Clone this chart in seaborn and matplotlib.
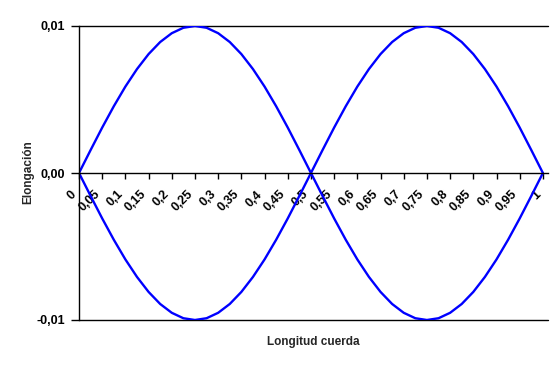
import matplotlib
matplotlib.use("Agg")
import matplotlib.pyplot as plt
import seaborn as sns
import pandas as pd

# Data
x_vals = [0.0, 0.025, 0.05, 0.075, 0.1, 0.125, 0.15, 0.175, 0.2, 0.225,
          0.25, 0.275, 0.3, 0.325, 0.35, 0.375, 0.4, 0.425, 0.45, 0.475,
          0.5, 0.525, 0.55, 0.575, 0.6, 0.625, 0.65, 0.675, 0.7, 0.725,
          0.75, 0.775, 0.8, 0.825, 0.85, 0.875, 0.9, 0.925, 0.95, 0.975, 1.0]
upper = [0.0, 0.00156, 0.00309, 0.00454, 0.00588, 0.00707, 0.00809, 0.00891, 0.00951, 0.00988,
         0.0100, 0.00988, 0.00951, 0.00891, 0.00809, 0.00707, 0.00588, 0.00454, 0.00309, 0.00156,
         0.0, -0.00156, -0.00309, -0.00454, -0.00588, -0.00707, -0.00809, -0.00891, -0.00951, -0.00988,
         -0.0100, -0.00988, -0.00951, -0.00891, -0.00809, -0.00707, -0.00588, -0.00454, -0.00309, -0.00156, 0.0]
lower = [0.0, -0.00156, -0.00309, -0.00454, -0.00588, -0.00707, -0.00809, -0.00891, -0.00951, -0.00988,
         -0.0100, -0.00988, -0.00951, -0.00891, -0.00809, -0.00707, -0.00588, -0.00454, -0.00309, -0.00156,
         0.0, 0.00156, 0.00309, 0.00454, 0.00588, 0.00707, 0.00809, 0.00891, 0.00951, 0.00988,
         0.0100, 0.00988, 0.00951, 0.00891, 0.00809, 0.00707, 0.00588, 0.00454, 0.00309, 0.00156, 0.0]
tick_pos = [0.0, 0.05, 0.1, 0.15, 0.2, 0.25, 0.3, 0.35, 0.4, 0.45, 0.5,
            0.55, 0.6, 0.65, 0.7, 0.75, 0.8, 0.85, 0.9, 0.95, 1.0]
tick_labels = ["0", "0,05", "0,1", "0,15", "0,2", "0,25", "0,3", "0,35", "0,4", "0,45", "0,5",
               "0,55", "0,6", "0,65", "0,7", "0,75", "0,8", "0,85", "0,9", "0,95", "1"]
y_ticks = [-0.01, 0.0, 0.01]
y_labels = ["-0,01", "0,00", "0,01"]

sns.set_style("white")
plt.rcParams['font.family'] = ['Liberation Sans', 'DejaVu Sans']

fig = plt.figure(figsize=(5.6, 3.69), dpi=100)
ax = fig.add_axes([79/560, 1-320/369, (548-79)/560, (320-26)/369])

df = pd.DataFrame({"x": x_vals + x_vals,
                   "y": upper + lower,
                   "s": ["a"]*len(x_vals) + ["b"]*len(x_vals)})
sns.lineplot(data=df, x="x", y="y", units="s", estimator=None, color="#0000ff",
             linewidth=1.7, ax=ax, legend=False)

ax.set_xlim(0, 1.011)
ax.set_ylim(-0.01, 0.01)

for s in ["top", "right"]:
    ax.spines[s].set_visible(False)
ax.spines["bottom"].set_position(("data", 0))
ax.spines["bottom"].set_linewidth(1.0)
ax.spines["left"].set_linewidth(1.0)
ax.spines["bottom"].set_color("black")
ax.spines["left"].set_color("black")

# gridlines at the extremes
for yv in [-0.01, 0.01]:
    ax.axhline(yv, color="black", linewidth=1.0, zorder=1, clip_on=False)

ax.set_xticks(tick_pos)
ax.set_xticklabels(tick_labels, rotation=45, ha="right", va="top",
                   fontsize=9, fontweight="bold")
ax.set_yticks(y_ticks)
ax.set_yticklabels(y_labels, fontsize=9, fontweight="bold")
ax.tick_params(axis="x", direction="out", length=4, width=1, pad=7, colors="black", bottom=True)
ax.tick_params(axis="y", direction="out", length=6, width=1, pad=4, colors="black", left=True)

ax.set_xlabel("")
ax.set_ylabel("")
fig.text(313/560, 1-342/369, "Longitud cuerda", ha="center", va="center",
         fontsize=8.5, fontweight="bold")
fig.text(28/560, 1-172/369, "Elongación", ha="center", va="center",
         rotation=90, fontsize=8.5, fontweight="bold")

fig.savefig("out.png", dpi=100)
